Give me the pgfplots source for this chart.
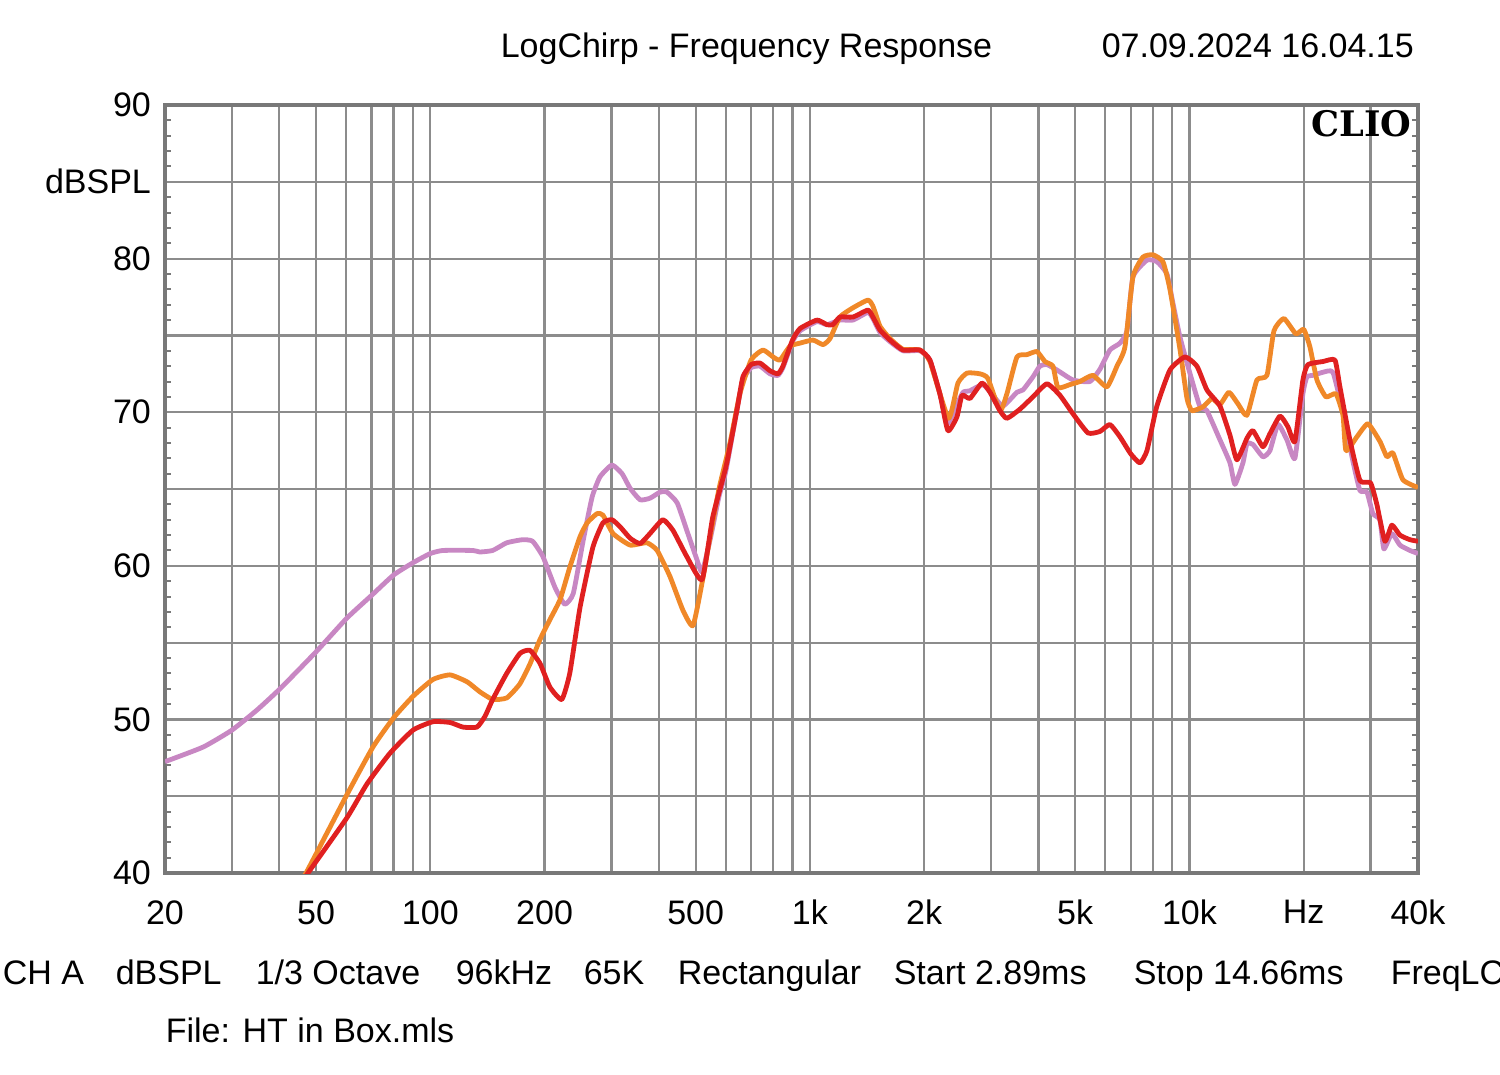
\documentclass[border=0pt]{standalone}
\usepackage{fontspec}
\setmainfont{Liberation Sans}
\newfontfamily\cliofont{DejaVu Serif}
\usepackage{pgfplots}
\pgfplotsset{compat=1.18}

\definecolor{cpurple}{RGB}{200,135,195}
\definecolor{corange}{RGB}{240,136,40}
\definecolor{cred}{RGB}{224,32,32}
\definecolor{cgrid}{RGB}{140,140,140}
\definecolor{cframe}{RGB}{120,120,120}
\newcommand\lbl{\fontsize{8.5}{10}\selectfont}

\begin{document}
\begin{tikzpicture}
% 1 px of the reference = 0.25pt, axis origin at px (165,873)
\useasboundingbox (-41.25pt,-50.25pt) rectangle (333.75pt,218.25pt);
\begin{axis}[
    at={(0,0)}, anchor=south west,
    scale only axis, width=313.25pt, height=192pt,
    xmode=log, xmin=20, xmax=40000, ymin=40, ymax=90,
    xtick={20,30,40,50,60,70,80,90,100,200,300,400,500,600,700,800,900,
           1000,2000,3000,4000,5000,6000,7000,8000,9000,10000,20000,30000,40000},
    xticklabels={20,,,50,,,,,100,200,,,500,,,,,1k,2k,,,5k,,,,,10k,Hz,,40k},
    ytick={40,45,...,90},
    yticklabels={40,,50,,60,,70,,80,dBSPL,90},
    minor y tick num=4,
    grid=major,
    major grid style={cgrid, line width=0.55pt},
    axis line style={cframe, line width=1.2pt},
    tick align=inside, ytick pos=both, xtick pos=bottom,
    major tick length=0pt, minor tick length=1.6pt,
    minor tick style={cframe, line width=0.5pt},
    ticklabel style={font=\lbl},
    xticklabel style={yshift=-3.3pt},
    /pgf/number format/assume math mode=true,
    every axis plot/.append style={line width=1.2pt, line join=round, smooth, tension=0.3},
]
% purple
\addplot[cpurple] coordinates {
(20,47.25)(25.2,48.2)(30,49.3)(34.9,50.6)(40.2,52.0)(50,54.4)(60.3,56.6)(70.2,58.1)
(80,59.4)(90,60.2)(100,60.8)(108,61.0)(129.6,61.0)(135,60.9)(146,61.0)(159,61.5)
(175,61.7)(186,61.6)(198,60.6)(213,58.6)(226,57.5)(238,58.2)(253,61.7)(267,64.5)
(280,65.8)(301,66.56)(320,66.0)(336,65.05)(357,64.3)(379,64.4)(403,64.8)(420,64.8)
(447,64.1)(474,62.3)(504,60.4)(520,59.6)(546,61.7)(576,64.5)(601,66.2)(643,70.2)
(666,72.1)(700,72.9)(739,73.0)(785,72.5)(824,72.4)(849,72.9)(900,74.6)(942,75.3)
(1044,75.9)(1109,75.7)(1200,76.0)(1299,76.0)(1422,76.5)(1466,76.1)(1530,75.2)
(1625,74.6)(1759,74.0)(1949,74.0)(2071,73.4)(2200,71.2)(2310,69.3)(2440,70.5)
(2532,71.3)(2641,71.4)(2858,71.8)(3036,71.1)(3226,70.4)(3512,71.3)(3642,71.45)
(3870,72.3)(4036,73.0)(4212,73.1)(4476,72.75)(4932,72.1)(5469,72.0)(5810,72.8)
(6172,74.05)(6560,74.5)(6844,75.3)(7096,78.8)(7728,79.9)(8212,79.8)(8724,79.0)
(9046,77.1)(9440,74.9)(10024,72.55)(10658,70.35)(11118,70.1)(12032,68.2)(12786,66.7)
(13178,65.3)(13832,66.7)(14174,67.95)(14698,67.9)(15618,67.1)(16294,67.5)(17108,69.2)
(18062,68.2)(18960,67.0)(19904,71.2)(20390,72.3)(21146,72.4)(22472,72.6)(23874,72.6)
(25374,70.0)(26960,66.8)(28130,64.9)(29340,64.8)(30428,63.4)(31750,63.0)(32528,61.1)
(34144,62.1)(35854,61.35)(38100,61.0)(40000,60.8)
};
% orange
\addplot[corange] coordinates {
(45.5,39.5)(47.3,40.1)(60.3,45.1)(70.6,48.2)(80,50.1)(90,51.5)(101.6,52.6)(112.7,52.9)
(125,52.45)(135,51.8)(146,51.3)(159,51.4)(172,52.3)(183,53.6)(194.5,55.2)(206.6,56.5)
(219.7,57.8)(233,59.9)(248,61.9)(259,62.8)(275,63.4)(285,63.3)(303,62.1)(336,61.35)
(372,61.5)(396,61.0)(428,59.3)(463,57.1)(492,56.1)(520,58.9)(546,61.9)(576,65.0)
(616,68.0)(654,71.2)(700,73.4)(752,74.05)(800,73.6)(834,73.4)(886,74.3)(942,74.5)
(1019,74.7)(1083,74.4)(1130,74.8)(1200,76.2)(1299,76.8)(1422,77.3)(1466,76.9)
(1530,75.6)(1625,74.8)(1759,74.1)(1949,74.05)(2071,73.3)(2318,69.6)(2455,71.9)
(2594,72.55)(2806,72.5)(2944,72.2)(3168,70.1)(3304,71.2)(3512,73.6)(3732,73.75)
(3964,73.95)(4162,73.3)(4368,73.0)(4502,71.6)(4844,71.8)(5146,72.0)(5568,72.4)
(6062,71.65)(6442,73.0)(6762,74.25)(7096,78.8)(7542,80.1)(8012,80.25)(8514,79.8)
(8884,78.0)(9440,74.1)(9850,70.9)(10152,70.1)(10854,70.35)(11466,70.9)(12032,70.5)
(12706,71.3)(13418,70.55)(14174,69.8)(15058,72.1)(16002,72.4)(16696,75.3)(17736,76.1)
(19078,75.1)(20000,75.4)(20766,74.25)(21668,72.1)(22884,71.0)(24316,71.2)(25374,69.8)
(25840,67.5)(27620,68.4)(29520,69.25)(31750,68.1)(33128,67.1)(34360,67.35)(36512,65.6)
(40000,65.1)
};
% red
\addplot[cred] coordinates {
(46,39.5)(47.6,40.0)(60.3,43.6)(68.1,45.8)(78.3,47.8)(90,49.3)(101.6,49.85)(112.7,49.8)
(121.9,49.5)(132.7,49.5)(139.3,50.2)(146,51.3)(159,53.0)(172.3,54.3)(183,54.5)
(194.5,53.65)(206.6,52.1)(222,51.3)(233,53.0)(248,57.3)(268,61.2)(285,62.8)(301,63.0)
(316,62.55)(336,61.8)(357,61.45)(379,62.1)(410,63.0)(436,62.3)(474,60.6)(520,59.1)
(555,63.2)(601,66.45)(643,70.2)(666,72.3)(700,73.1)(739,73.2)(785,72.7)(824,72.5)
(849,73.0)(900,74.7)(942,75.45)(1044,76.0)(1109,75.7)(1150,75.7)(1200,76.2)(1299,76.2)
(1422,76.65)(1466,76.2)(1530,75.35)(1625,74.7)(1759,74.05)(1949,74.05)(2071,73.4)
(2200,71.2)(2310,68.8)(2440,69.7)(2516,71.1)(2641,70.9)(2840,71.9)(2982,71.3)
(3168,70.1)(3304,69.6)(3577,70.2)(3870,71.0)(4212,71.85)(4558,71.1)(4932,69.9)
(5404,68.65)(5810,68.75)(6172,69.2)(6560,68.4)(7000,67.3)(7405,66.7)(7728,67.5)
(8196,70.35)(8884,72.75)(9730,73.6)(10464,73.0)(11118,71.45)(12032,70.4)(12786,68.5)
(13336,66.9)(14174,68.3)(14698,68.8)(15618,67.75)(16294,68.6)(17312,69.75)(18172,69.05)
(18960,68.1)(19904,72.1)(20518,73.1)(22472,73.3)(24166,73.4)(24912,71.65)(26466,68.2)
(28130,65.55)(30000,65.4)(31170,64.0)(32724,61.6)(34144,62.65)(35854,62.0)(38100,61.7)
(40000,61.6)
};
\end{axis}
\node[anchor=north east, inner sep=0pt, font=\cliofont\bfseries\fontsize{8.8}{10}\selectfont]
    at (311.75pt,190.75pt) {CLIO};
\node[anchor=base west, inner sep=0pt, font=\lbl] at (83.75pt,204pt) {LogChirp - Frequency Response};
\node[anchor=base west, inner sep=0pt, font=\lbl] at (234pt,204pt) {07.09.2024 16.04.15};
\node[anchor=base west, inner sep=0pt, font=\lbl] at (-40.75pt,-27.75pt) {CH A};
\node[anchor=base west, inner sep=0pt, font=\lbl] at (-12.5pt,-27.75pt) {dBSPL};
\node[anchor=base west, inner sep=0pt, font=\lbl] at (22.5pt,-27.75pt) {1/3 Octave};
\node[anchor=base west, inner sep=0pt, font=\lbl] at (72.5pt,-27.75pt) {96kHz};
\node[anchor=base west, inner sep=0pt, font=\lbl] at (104.5pt,-27.75pt) {65K};
\node[anchor=base west, inner sep=0pt, font=\lbl] at (128pt,-27.75pt) {Rectangular};
\node[anchor=base west, inner sep=0pt, font=\lbl] at (182pt,-27.75pt) {Start 2.89ms};
\node[anchor=base west, inner sep=0pt, font=\lbl] at (242pt,-27.75pt) {Stop 14.66ms};
\node[anchor=base west, inner sep=0pt, font=\lbl] at (306.25pt,-27.75pt) {FreqLC};
\node[anchor=base west, inner sep=0pt, font=\lbl] at (0pt,-42.25pt) {File: HT in Box.mls};
\end{tikzpicture}
\end{document}
